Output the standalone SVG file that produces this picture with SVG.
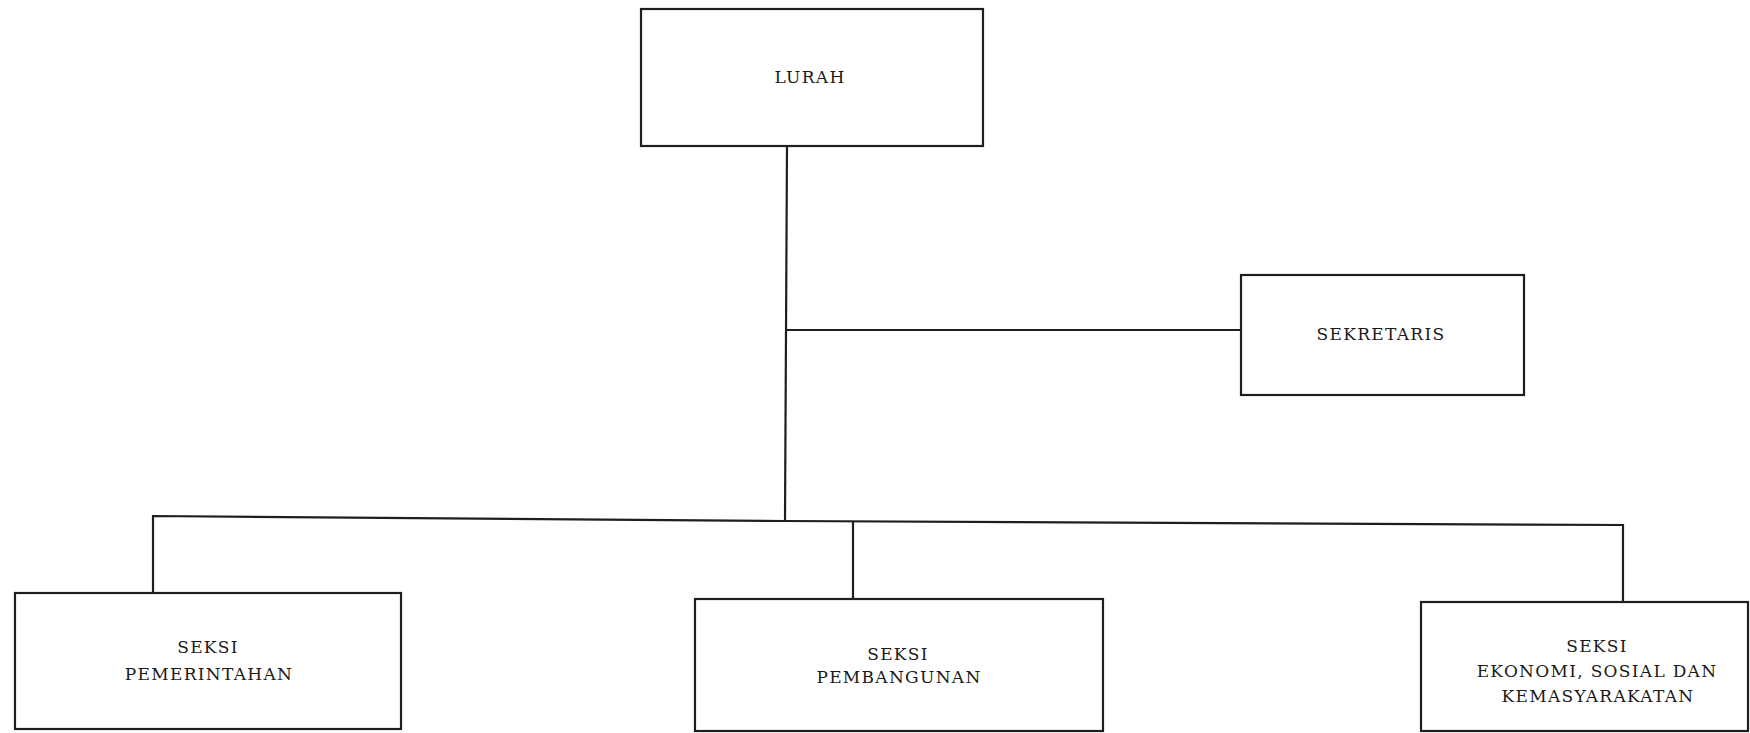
<svg xmlns="http://www.w3.org/2000/svg" width="1750" height="733" viewBox="0 0 1750 733">
<style>
.box{fill:#fff;stroke:#1e1e1e;stroke-width:2.2}
.ln{fill:none;stroke:#1e1e1e;stroke-width:2.2}
text{font-family:"DejaVu Serif","Liberation Serif",serif;font-size:17px;fill:#1a1a1a;text-anchor:middle;letter-spacing:1.3px}
</style>
<rect width="1750" height="733" fill="#fff"/>
<g id="connectors">
<polyline class="ln" points="787,146 785,521"/>
<line class="ln" x1="786" y1="330" x2="1241" y2="330"/>
<polyline class="ln" points="153,593 153,516 785,521 1623,525 1623,602"/>
<line class="ln" x1="853" y1="521" x2="853" y2="599"/>
</g>
<g id="lurah">
<rect class="box" x="641" y="9" width="342" height="137"/>
<text x="810" y="83">LURAH</text>
</g>
<g id="sekretaris">
<rect class="box" x="1241" y="275" width="283" height="120"/>
<text x="1381" y="340">SEKRETARIS</text>
</g>
<g id="seksi-pemerintahan">
<rect class="box" x="15" y="593" width="386" height="136"/>
<text x="208" y="653">SEKSI</text>
<text x="209" y="680">PEMERINTAHAN</text>
</g>
<g id="seksi-pembangunan">
<rect class="box" x="695" y="599" width="408" height="132"/>
<text x="898" y="660">SEKSI</text>
<text x="899" y="683">PEMBANGUNAN</text>
</g>
<g id="seksi-ekonomi">
<rect class="box" x="1421" y="602" width="327" height="129"/>
<text x="1597" y="652">SEKSI</text>
<text x="1597" y="677">EKONOMI, SOSIAL DAN</text>
<text x="1598" y="702">KEMASYARAKATAN</text>
</g>
</svg>
